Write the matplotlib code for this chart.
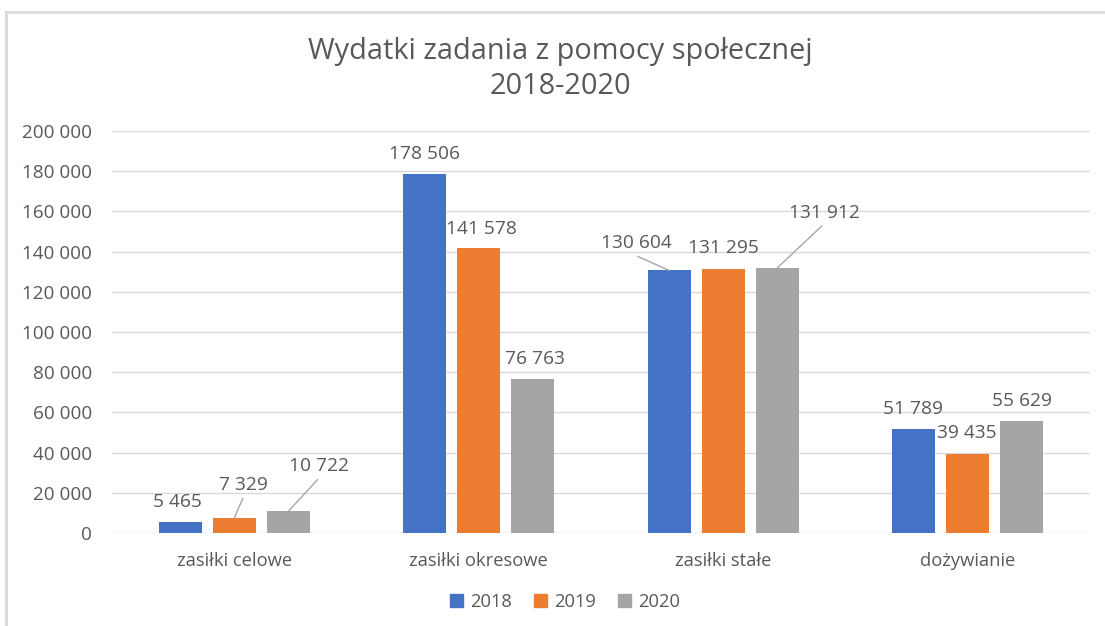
import matplotlib
matplotlib.use("Agg")
import matplotlib.pyplot as plt
from matplotlib.lines import Line2D
from matplotlib.patches import Patch
import numpy as np

categories = ["zasiłki celowe", "zasiłki okresowe", "zasiłki stałe", "dożywianie"]
years = ["2018", "2019", "2020"]
v2018 = [5465, 178506, 130604, 51789]
v2019 = [7329, 141578, 131295, 39435]
v2020 = [10722, 76763, 131912, 55629]
yticks = [0, 20000, 40000, 60000, 80000, 100000, 120000, 140000, 160000, 180000, 200000]

colors = ["#4472C4", "#ED7D31", "#A5A5A5"]
txt = "#595959"
font = "Open Sans"

# label offsets in pixels (dx, dy) and whether a leader line is drawn; rows = series
offsets = [
    [(-3, 20, False), (0, 20, False), (-33, 27, True), (-1, 20, False)],
    [(9, 33, True), (3, 19, False), (0, 21, False), (-1, 21, False)],
    [(31, 45, True), (2, 20, False), (47, 55, True), (0, 20, False)],
]

def fmt(v):
    return f"{v:,}".replace(",", " ")

W, H = 1105, 626
fig = plt.figure(figsize=(W / 100, H / 100), dpi=100)
ax = fig.add_axes([112 / W, 1 - 533 / H, (1090 - 112) / W, (533 - 131) / H])

x = np.arange(len(categories))
bw = 0.176
step = 0.221
series = [v2018, v2019, v2020]
for i, vals in enumerate(series):
    xs = x + (i - 1) * step
    ax.bar(xs, vals, width=bw, color=colors[i], zorder=3, label=years[i])
    for j, v in enumerate(vals):
        dx, dy, line = offsets[i][j]
        ax.annotate(fmt(v), xy=(xs[j], v), xytext=(dx, dy), textcoords="offset pixels",
                    ha="center", va="center", fontsize=13.8, color=txt, family=font,
                    zorder=4)
        if line:
            ax.annotate("", xy=(xs[j], v), xytext=(dx * 0.95, dy - 13),
                        textcoords="offset pixels",
                        arrowprops=dict(arrowstyle="-", color="#A6A6A6", lw=1,
                                        shrinkA=0, shrinkB=0), zorder=4)

ax.set_xlim(-0.5, len(categories) - 0.5)
ax.set_ylim(0, 200000)
ax.set_yticks(yticks)
ax.set_yticklabels([fmt(t) for t in yticks], family=font, fontsize=13.6, color=txt)
ax.set_xticks(x)
ax.set_xticklabels(categories, family=font, fontsize=13.2, color=txt)
ax.tick_params(axis="both", length=0)
ax.tick_params(axis="y", pad=14.4)
ax.tick_params(axis="x", pad=14)
ax.grid(axis="y", color="#D9D9D9", lw=1, zorder=0)
for s in ax.spines.values():
    s.set_visible(False)

fig.text(0.5 + 8 / W, 1 - 51 / H, "Wydatki zadania z pomocy społecznej", ha="center", va="center",
         fontsize=20.8, color=txt, family=font)
fig.text(0.5 + 8 / W, 1 - 87 / H, "2018-2020", ha="center", va="center",
         fontsize=20.8, color=txt, family=font)

handles = [Patch(color=c, label=y) for c, y in zip(colors, years)]
leg = fig.legend(handles=handles, loc="center", bbox_to_anchor=(565 / W, 1 - 602 / H),
                 ncol=3, frameon=False, prop={"family": font, "size": 13.2},
                 handlelength=0.7, handleheight=0.7, handletextpad=0.4, columnspacing=1.2)
for t in leg.get_texts():
    t.set_color(txt)

# chart border
fig.add_artist(Line2D([6 / W, 1], [1 - 12 / H, 1 - 12 / H], color="#D9D9D9", lw=2))
fig.add_artist(Line2D([6 / W, 6 / W], [1 - 12 / H, 0], color="#D9D9D9", lw=2))

fig.savefig("out.png", dpi=100)
